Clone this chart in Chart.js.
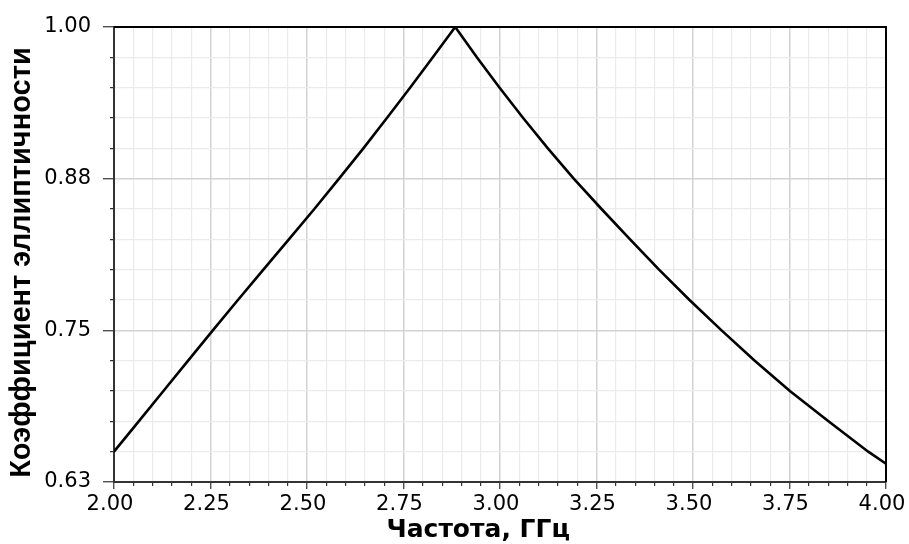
<!DOCTYPE html>
<html>
<head>
<meta charset="utf-8">
<script src="https://cdn.jsdelivr.net/npm/chart.js@4"></script>
<style>
html,body{margin:0;padding:0;background:#fff;}
#wrap{width:909px;height:544px;position:relative;}
</style>
</head>
<body>
<div id="wrap"><canvas id="c" width="909" height="544"></canvas></div>
<script>
// Frequency, GHz
const freq = [2.000, 2.064, 2.128, 2.192, 2.256, 2.321, 2.387, 2.453, 2.519, 2.583,
              2.646, 2.707, 2.767, 2.826, 2.884, 2.940, 2.999, 3.060, 3.124, 3.191,
              3.263, 3.337, 3.412, 3.491, 3.574, 3.660, 3.751, 3.851, 3.954, 4.000];
// Ellipticity coefficient
const coef = [0.650, 0.675, 0.700, 0.725, 0.750, 0.775, 0.800, 0.825, 0.850, 0.875,
              0.900, 0.925, 0.950, 0.975, 1.000, 0.975, 0.950, 0.925, 0.900, 0.875,
              0.850, 0.825, 0.800, 0.775, 0.750, 0.725, 0.700, 0.675, 0.650, 0.640];
const xTickLabels = ["2.00","2.25","2.50","2.75","3.00","3.25","3.50","3.75","4.00"];
const yTickLabels = ["0.63","0.75","0.88","1.00"];
const xTitle = "Частота, ГГц";
const yTitle = "Коэффициент эллиптичности";

const points = freq.map((f, i) => ({x: f, y: coef[i]}));

const framePlugin = {
  id: 'frame',
  afterDatasetsDraw(chart) {
    const {ctx, chartArea: a} = chart;
    ctx.save();
    ctx.strokeStyle = '#000';
    ctx.lineWidth = 2;
    ctx.beginPath();
    ctx.moveTo(a.left, a.top);
    ctx.lineTo(a.right, a.top);
    ctx.lineTo(a.right, a.bottom);
    ctx.stroke();
    ctx.restore();
  }
};

new Chart(document.getElementById('c'), {
  type: 'line',
  data: {
    datasets: [{
      data: points,
      borderColor: '#000',
      borderWidth: 2.6,
      pointRadius: 0,
      fill: false,
      tension: 0
    }]
  },
  options: {
    responsive: false,
    animation: false,
    events: [],
    layout: {padding: {top: 27, right: 23, left: 0, bottom: 0}},
    plugins: {legend: {display: false}, tooltip: {enabled: false}},
    scales: {
      x: {
        type: 'linear',
        min: 2, max: 4,
        afterFit(s) { s.height = 62; s.paddingLeft = 0; s.paddingRight = 0; },
        border: {display: true, color: '#333', width: 2},
        grid: {
          color: c => (c.index % 5 === 0 ? '#d2d2d2' : '#ebebeb'),
          lineWidth: c => (c.index % 5 === 0 ? 1.5 : 1.2),
          tickColor: '#333',
          tickLength: 7,
          tickWidth: 1.2,
          tickBorderDash: c => (c.index % 5 === 0 ? [] : [3, 100])
        },
        ticks: {
          stepSize: 0.05,
          autoSkip: false,
          maxRotation: 0,
          minRotation: 0,
          padding: 3,
          labelOffset: -4,
          color: '#000',
          font: {family: 'DejaVu Sans', size: 21},
          callback: (v, i) => (i % 5 === 0 ? xTickLabels[i / 5] : '')
        },
        title: {
          display: true,
          text: xTitle + '\u00a0\u00a0\u00a0\u00a0\u00a0',
          color: '#000',
          font: {family: 'DejaVu Sans', size: 25, weight: 'bold'},
          padding: {top: 0, bottom: -1}
        }
      },
      y: {
        type: 'linear',
        min: 0.625, max: 1.0,
        afterFit(s) { s.width = 114; },
        border: {display: true, color: '#333', width: 2},
        grid: {
          color: c => (c.index % 5 === 0 ? '#d2d2d2' : '#ebebeb'),
          lineWidth: c => (c.index % 5 === 0 ? 1.5 : 1.2),
          tickColor: '#333',
          tickLength: 11,
          tickWidth: 1.2,
          tickBorderDash: c => (c.index % 5 === 0 ? [] : [0, 7, 4, 100])
        },
        ticks: {
          stepSize: 0.025,
          autoSkip: false,
          padding: 12,
          color: '#000',
          font: {family: 'DejaVu Sans', size: 21},
          callback: (v, i) => (i % 5 === 0 ? yTickLabels[i / 5] : '')
        },
        title: {
          display: true,
          text: yTitle + '\u00a0\u00a0',
          color: '#000',
          font: {family: 'Liberation Sans', size: 29, weight: 'bold'},
          padding: {top: 5, bottom: 0}
        }
      }
    }
  },
  plugins: [framePlugin]
});
</script>
</body>
</html>
